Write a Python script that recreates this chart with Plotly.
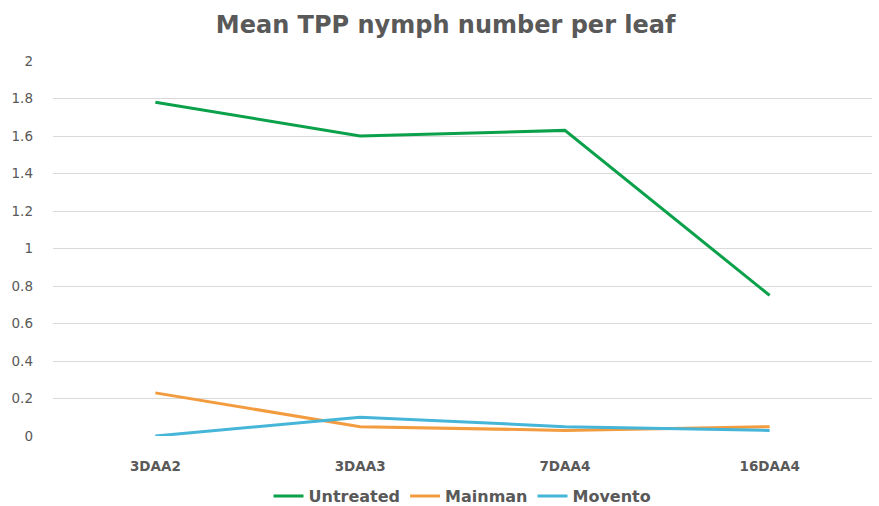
import plotly.graph_objects as go

categories = ["3DAA2", "3DAA3", "7DAA4", "16DAA4"]
untreated = [1.78, 1.60, 1.63, 0.75]
mainman = [0.23, 0.05, 0.03, 0.05]
movento = [0.00, 0.10, 0.05, 0.03]
yticks = [0, 0.2, 0.4, 0.6, 0.8, 1, 1.2, 1.4, 1.6, 1.8, 2]

font_family = "DejaVu Sans, sans-serif"
text_color = "#595959"

fig = go.Figure()
series = [("Untreated", untreated, "#0BA14B"), ("Mainman", mainman, "#F39C3F"), ("Movento", movento, "#45B5D8")]
for name, vals, col in series:
    fig.add_trace(go.Scatter(x=categories, y=vals, name=name, mode="lines",
                             line=dict(color=col, width=3)))

fig.update_layout(
    width=879, height=506,
    paper_bgcolor="white", plot_bgcolor="white",
    margin=dict(l=53, r=7, t=61, b=70, autoexpand=False),
    title=dict(text="<b>Mean TPP nymph number per leaf</b>", x=0.507, xanchor="center",
               y=0.952, yanchor="middle",
               font=dict(family=font_family, size=24, color=text_color)),
    font=dict(family=font_family, color=text_color),
    xaxis=dict(range=[-0.5, 3.5], showgrid=False, showline=False, zeroline=False,
               ticks="", ticklabelstandoff=20, automargin=False,
               tickfont=dict(size=13.5, color=text_color, weight="bold")),
    yaxis=dict(range=[0, 2], tickvals=yticks, ticktext=[f"{v:g}" for v in yticks],
               showgrid=True, gridcolor="#D9D9D9", gridwidth=1, zeroline=False,
               showline=False, ticks="", ticklabelstandoff=19, automargin=False,
               tickfont=dict(size=13.5, color=text_color)),
    legend=dict(orientation="h", x=0.5, xanchor="center", y=-0.16, yanchor="middle",
                font=dict(size=16, color=text_color, weight="bold"), itemwidth=30),
    showlegend=True,
)
fig.update_xaxes(type="category")
fig.write_html("out.html", config={"displayModeBar": False},
               post_script="document.body.style.margin='0';")
